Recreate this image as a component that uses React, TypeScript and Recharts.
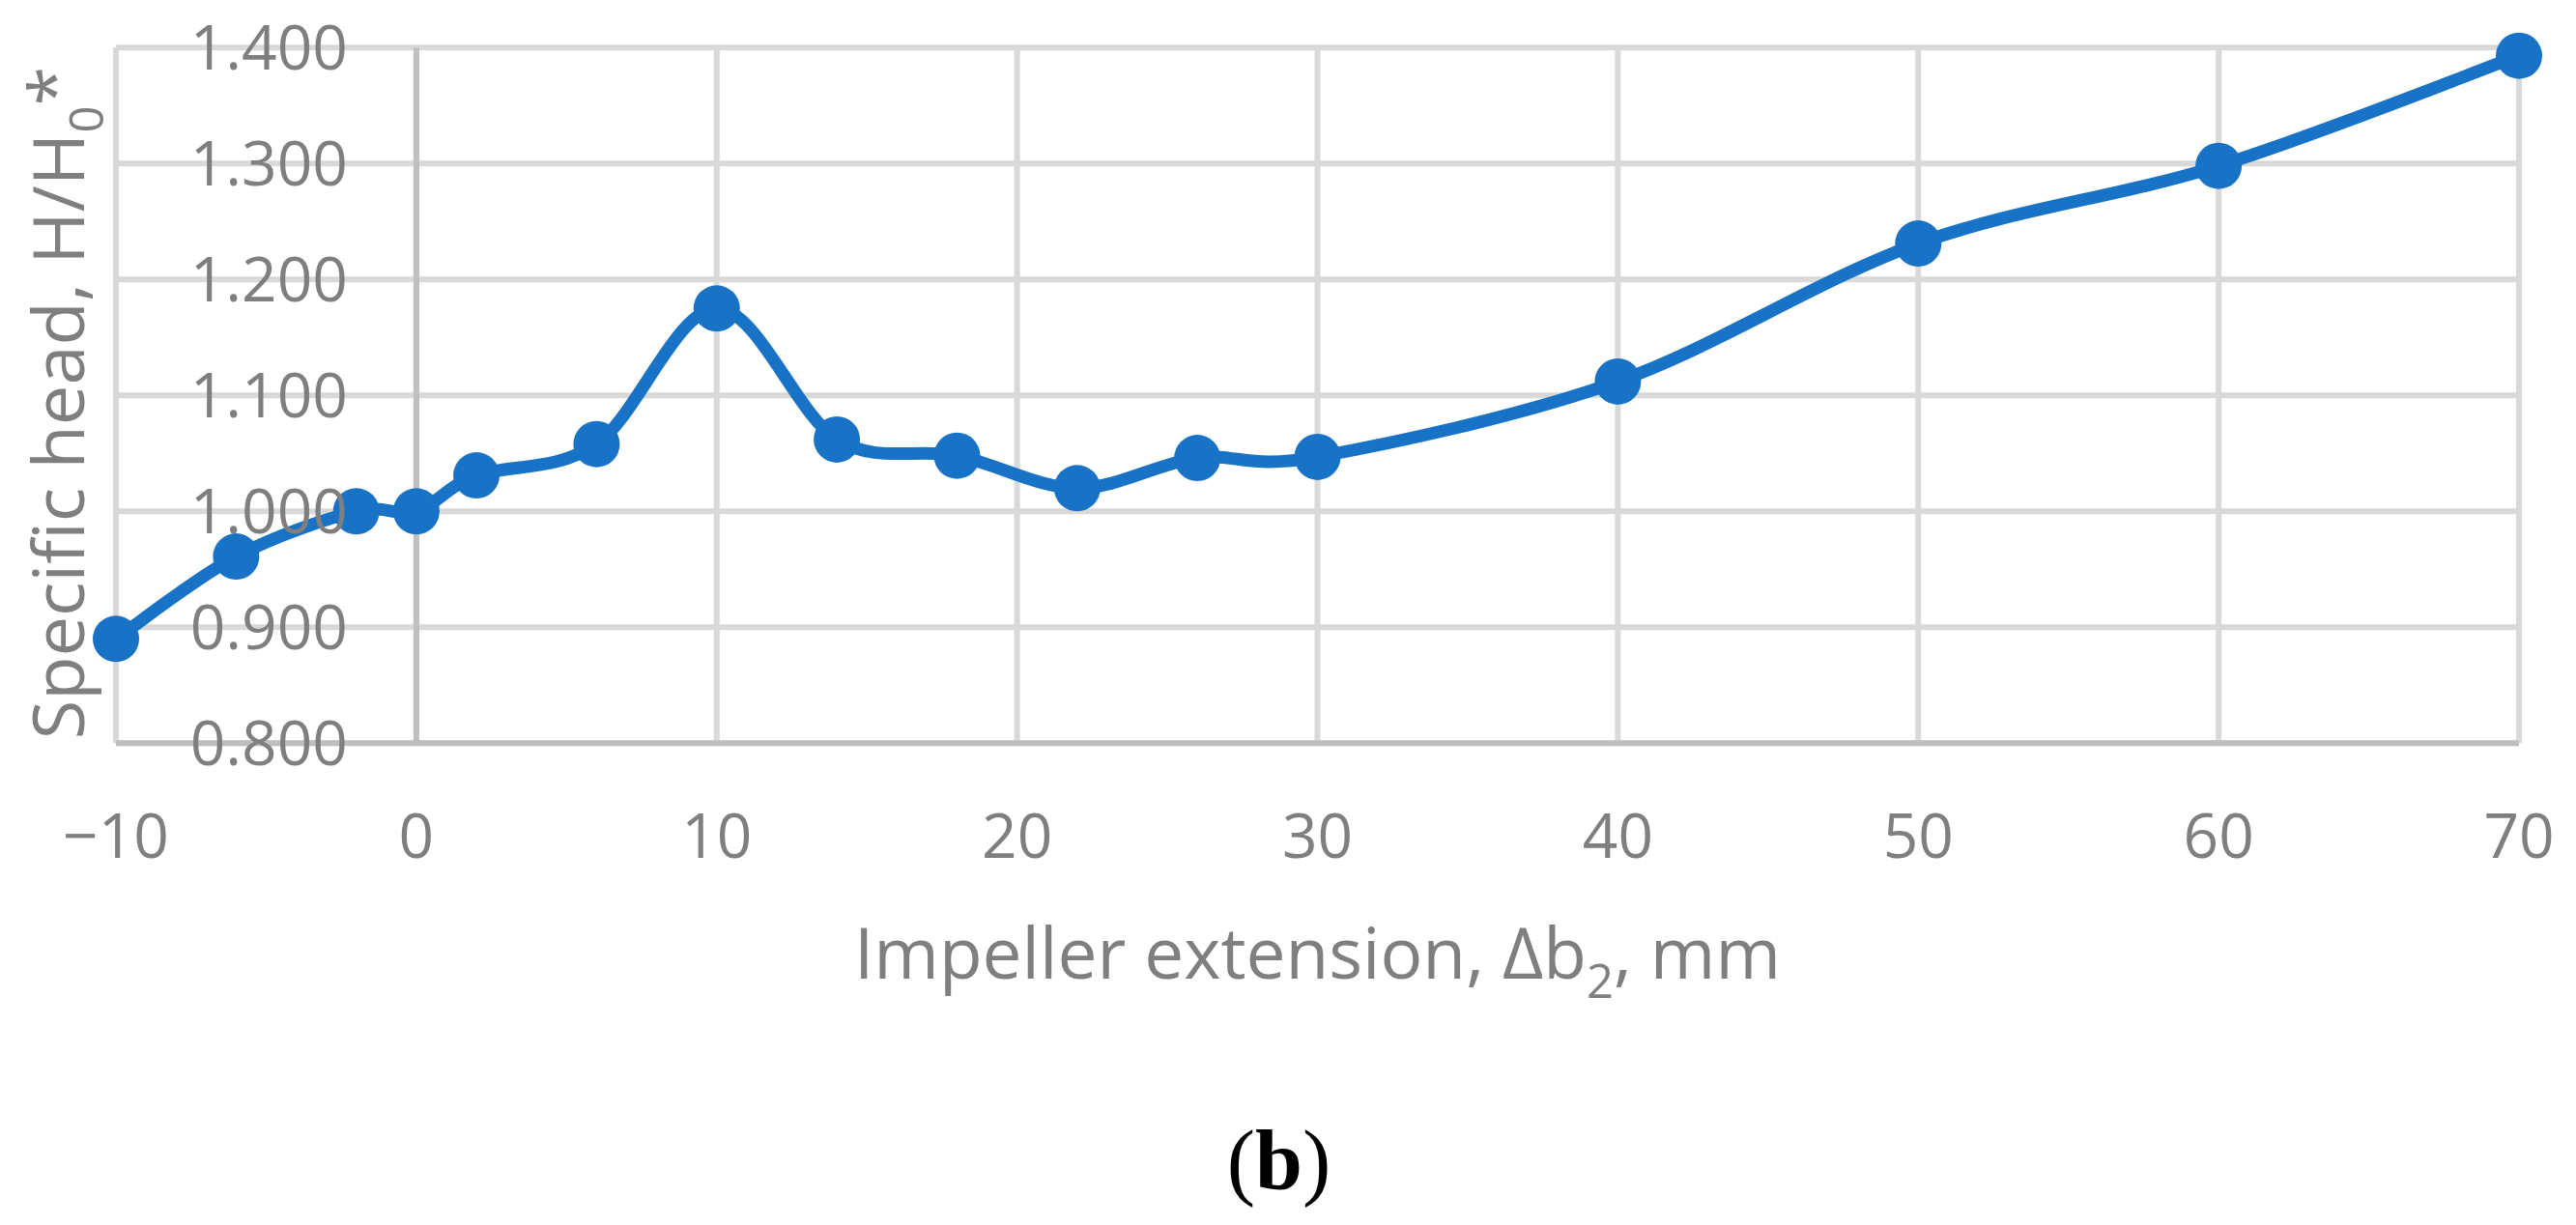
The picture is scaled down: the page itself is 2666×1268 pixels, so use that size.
import React from "react";
import {
  LineChart,
  Line,
  XAxis,
  YAxis,
  CartesianGrid,
  ReferenceLine,
  Label,
} from "recharts";

// ---- data ----
const X_VALUES = [-10, -6, -2, 0, 2, 6, 10, 14, 18, 22, 26, 30, 40, 50, 60, 70];
const HEAD_VALUES = [
  0.89, 0.961, 1.0, 1.0, 1.031, 1.058, 1.175, 1.062, 1.048, 1.02, 1.046, 1.047,
  1.112, 1.231, 1.298, 1.393,
];
const X_TICKS = [-10, 0, 10, 20, 30, 40, 50, 60, 70];
const Y_TICKS = [0.8, 0.9, 1.0, 1.1, 1.2, 1.3, 1.4];
const X_TITLE_MAIN = "Impeller extension, Δb";
const X_TITLE_SUB = "2";
const X_TITLE_END = ", mm";
const Y_TITLE_MAIN = "Specific head, H/H";
const Y_TITLE_SUB = "0";
const Y_TITLE_SUP = "*";
const PANEL_LABEL = "b";

const data = X_VALUES.map((x, i) => ({ x, h: HEAD_VALUES[i] }));

// ---- layout ----
const W = 2666;
const H = 1268;
const Y_AXIS_W = 1;
const M_LEFT = 120 - Y_AXIS_W;
const M_RIGHT = 59;
const M_TOP = 49.3;
const X_AXIS_H = 100;
const M_BOTTOM = H - 769.3 - X_AXIS_H;
const PLOT_W = W - M_LEFT - Y_AXIS_W - M_RIGHT;
const X_MIN = -10;
const X_MAX = 70;
const ZERO_OFFSET = ((0 - X_MIN) / (X_MAX - X_MIN)) * PLOT_W;

const FONT = "'Open Sans', 'DejaVu Sans', sans-serif";
const TEXT_COLOR = "#7f7f7f";
const LINE_COLOR = "#1873c7";

// Excel-like smoothing: Catmull-Rom spline as bezier segments
const excelSmooth = (context: any) => {
  let pts: number[][] = [];
  return {
    areaStart() {},
    areaEnd() {},
    lineStart() {
      pts = [];
    },
    point(x: number, y: number) {
      pts.push([+x, +y]);
    },
    lineEnd() {
      if (!pts.length) return;
      context.moveTo(pts[0][0], pts[0][1]);
      for (let i = 0; i < pts.length - 1; i++) {
        const p0 = pts[i - 1] || pts[i];
        const p1 = pts[i];
        const p2 = pts[i + 1];
        const p3 = pts[i + 2] || p2;
        context.bezierCurveTo(
          p1[0] + (p2[0] - p0[0]) / 6,
          p1[1] + (p2[1] - p0[1]) / 6,
          p2[0] - (p3[0] - p1[0]) / 6,
          p2[1] - (p3[1] - p1[1]) / 6,
          p2[0],
          p2[1]
        );
      }
    },
  };
};

const fmtX = (v: number) => (v < 0 ? "\u2212" + Math.abs(v) : String(v));

const XTick = (props: any) => {
  const { x, y, payload } = props;
  return (
    <text
      x={x}
      y={y + 119}
      textAnchor="middle"
      fill={TEXT_COLOR}
      fontFamily={FONT}
      fontSize={64}
    >
      {fmtX(payload.value)}
    </text>
  );
};

const YTick = (props: any) => {
  const { y, payload } = props;
  const left = M_LEFT + Y_AXIS_W;
  return (
    <text
      x={left + ZERO_OFFSET - 71}
      y={y + 23}
      textAnchor="end"
      fill={TEXT_COLOR}
      fontFamily={FONT}
      fontSize={64}
    >
      {Number(payload.value).toFixed(3)}
    </text>
  );
};

const XTitle = (props: any) => {
  const vb = props.viewBox || { x: M_LEFT + Y_AXIS_W, y: 769.3, width: PLOT_W };
  const cx = vb.x + vb.width / 2;
  return (
    <g>
      <text
        x={cx}
        y={vb.y + 244}
        textAnchor="middle"
        fill={TEXT_COLOR}
        fontFamily={FONT}
        fontSize={73}
      >
        {X_TITLE_MAIN}
        <tspan fontSize={49} dy={20}>
          {X_TITLE_SUB}
        </tspan>
        <tspan dy={-20}>{X_TITLE_END}</tspan>
      </text>
      <text
        x={cx - 40}
        y={vb.y + 462}
        textAnchor="middle"
        fill="#000000"
        fontFamily="'Liberation Serif', 'Times New Roman', serif"
        fontSize={88}
      >
        (<tspan fontWeight="bold">{PANEL_LABEL}</tspan>)
      </text>
    </g>
  );
};

const YTitle = (props: any) => {
  const vb = props.viewBox || { x: M_LEFT, y: M_TOP, height: 720 };
  const x = 87;
  const y = vb.y + vb.height - 4;
  return (
    <text
      x={x}
      y={y}
      transform={`rotate(-90, ${x}, ${y})`}
      textAnchor="start"
      fill={TEXT_COLOR}
      fontFamily={FONT}
      fontSize={74}
    >
      {Y_TITLE_MAIN}
      <tspan fontSize={49} dy={20}>
        {Y_TITLE_SUB}
      </tspan>
      <tspan dy={-24}>{Y_TITLE_SUP}</tspan>
    </text>
  );
};

export default function App() {
  return (
    <div
      style={{
        position: "absolute",
        left: 0,
        top: 0,
        width: W,
        height: H,
        background: "#ffffff",
      }}
    >
      <LineChart
        width={W}
        height={H}
        data={data}
        margin={{ top: M_TOP, right: M_RIGHT, bottom: M_BOTTOM, left: M_LEFT }}
      >
        <CartesianGrid stroke="#d9d9d9" strokeWidth={6} />
        <ReferenceLine x={0} stroke="#bfbfbf" strokeWidth={6} />
        <XAxis
          type="number"
          dataKey="x"
          domain={[X_MIN, X_MAX]}
          ticks={X_TICKS}
          height={X_AXIS_H}
          axisLine={{ stroke: "#bfbfbf", strokeWidth: 6 }}
          tickLine={false}
          tickSize={0}
          tickMargin={0}
          tick={<XTick />}
          interval={0}
        >
          <Label content={<XTitle />} />
        </XAxis>
        <YAxis
          type="number"
          domain={[0.8, 1.4]}
          ticks={Y_TICKS}
          width={Y_AXIS_W}
          axisLine={false}
          tickLine={false}
          tickSize={0}
          tickMargin={0}
          tick={<YTick />}
          interval={0}
        >
          <Label content={<YTitle />} />
        </YAxis>
        <Line
          dataKey="h"
          type={excelSmooth as any}
          stroke={LINE_COLOR}
          strokeWidth={13}
          dot={{ r: 24, fill: LINE_COLOR, stroke: "none" }}
          activeDot={false}
          isAnimationActive={false}
        />
      </LineChart>
    </div>
  );
}
